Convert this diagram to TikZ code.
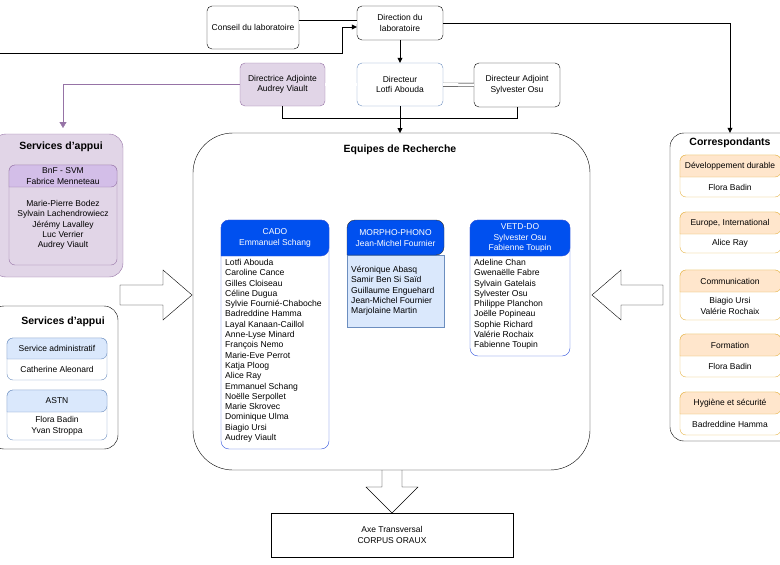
\documentclass[tikz,border=0pt]{standalone}
\usepackage{fontspec}
\setmainfont{Liberation Sans}
\usetikzlibrary{arrows.meta,calc,shapes.arrows}
\definecolor{pfill}{HTML}{E1D5E7}\definecolor{pdraw}{HTML}{9673A6}\definecolor{phead}{HTML}{D3BEE8}
\definecolor{bfill}{HTML}{DAE8FC}\definecolor{bdraw}{HTML}{6C8EBF}
\definecolor{ofill}{HTML}{FFE6CC}\definecolor{odraw}{HTML}{E6B54A}
\definecolor{team}{HTML}{0050EF}\definecolor{tdraw}{HTML}{3355DD}
\tikzset{
 box/.style={draw, rounded corners=5pt, align=center, font=\fontsize{8.5}{10.5}\selectfont, inner sep=0pt},
 con/.style={draw, -{Triangle[length=5pt,width=5pt]}},
 dbl/.style={draw, double, double distance=3pt},
 ttl/.style={font=\bfseries\fontsize{10.5}{12}\selectfont},
 txt/.style={font=\fontsize{8.5}{10.5}\selectfont, align=center, inner sep=0pt},
 lst/.style={font=\fontsize{8.6}{10.3}\selectfont, align=left, inner sep=0pt, anchor=north west},
}
\begin{document}
\begin{tikzpicture}[x=1pt,y=-1pt]
\useasboundingbox (0,0) rectangle (780,565);
% top boxes
\node[box, minimum width=92pt, minimum height=43pt] (cons) at (253,27.5) {Conseil du laboratoire};
\node[box, minimum width=86pt, minimum height=34pt] (dirlab) at (400,23) {Direction du\\laboratoire};
\node[box, fill=pfill, draw=pdraw, minimum width=85pt, minimum height=43pt] (dira) at (282.5,84.5) {Directrice Adjointe\\Audrey Viault};
\node[box, draw=bdraw, minimum width=86pt, minimum height=43pt] (dir) at (400,84.5) {Directeur\\Lotfi Abouda};
\node[box, minimum width=86pt, minimum height=44pt] (diradj) at (517,85) {Directeur Adjoint\\Sylvester Osu};
\coordinate (offl) at (0,53);
% equipes
\node[draw, rounded corners=40pt, minimum width=397pt, minimum height=337pt] (eq) at (391.5,301.5) {};
\node[ttl] (eqt) at (400,150) {Equipes de Recherche};
% services d'appui purple
\node[draw=pdraw, fill=pfill, rounded corners=14pt, minimum width=131pt, minimum height=143pt] (sa1) at (57.5,205.5) {};
\node[ttl] (sa1t) at (61,147) {Services d'appui};
\draw[draw=pdraw, fill=pfill, rounded corners=6pt] (9,165) rectangle (117,265);
\draw[draw=pdraw, fill=phead, rounded corners=6pt] (9,187) -- (9,165) -- (117,165) -- (117,187) [sharp corners]-- cycle;
\node[txt] (bnf) at (63,176) {BnF - SVM\\Fabrice Menneteau};
\node[txt, font=\fontsize{8.5}{10.3}\selectfont] (bnfl) at (63,225) {Marie-Pierre Bodez\\Sylvain Lachendrowiecz\\Jérémy Lavalley\\Luc Verrier\\Audrey Viault};
% services d'appui white
\node[draw, rounded corners=14pt, minimum width=128pt, minimum height=143pt] (sa2) at (54,377.5) {};
\node[ttl] (sa2t) at (63,322) {Services d'appui};
\foreach \nm/\ya/\yb/\yc/\h/\b in {adm/338/359/380/Service administratif/Catherine Aleonard, astn/390/412/440/ASTN/{Flora Badin\\Yvan Stroppa}}{
  \draw[draw=bdraw, rounded corners=6pt] (7,\ya) rectangle (107,\yc);
  \draw[draw=bdraw, fill=bfill, rounded corners=6pt] (7,\yb) -- (7,\ya) -- (107,\ya) -- (107,\yb) [sharp corners]-- cycle;
  \node[txt] (\nm h) at (57,{(\ya+\yb)/2}) {\h};
  \node[txt] (\nm b) at (57,{(\yb+\yc)/2}) {\b};
}
% correspondants
\node[draw, rounded corners=14pt, minimum width=130pt, minimum height=308pt] (cor) at (735,287) {};
\node[ttl] (cort) at (730,143) {Correspondants};
\foreach \nm/\ya/\yb/\yc/\h/\b in {dd/155/177/197/Développement durable/Flora Badin, eu/212/234/253/{Europe, International}/Alice Ray, com/270/292/320/Communication/{Biagio Ursi\\Valérie Rochaix}, form/334/356/377/Formation/Flora Badin, hyg/392/414/435/Hygiène et sécurité/Badreddine Hamma}{
  \draw[draw=odraw, fill=white, rounded corners=6pt] (680,\ya) rectangle (781,\yc);
  \draw[draw=odraw, fill=ofill, rounded corners=6pt] (680,\yb) -- (680,\ya) -- (781,\ya) -- (781,\yb) [sharp corners]-- cycle;
  \node[txt] (\nm h) at (730,{(\ya+\yb)/2}) {\h};
  \node[txt] (\nm b) at (730,{(\yb+\yc)/2}) {\b};
}
% teams
\draw[draw=tdraw, fill=white, rounded corners=8pt] (221,220) rectangle (329,449);
\draw[draw=tdraw, fill=team, rounded corners=8pt] (221,256) -- (221,220) -- (329,220) -- (329,256) [sharp corners]-- cycle;
\node[txt, text=white] (cado) at (275,238) {CADO\\Emmanuel Schang};
\node[lst] (cadol) at (225,259) {Lotfi Abouda\\Caroline Cance\\Gilles Cloiseau\\Céline Dugua\\Sylvie Fournié-Chaboche\\Badreddine Hamma\\Layal Kanaan-Caillol\\Anne-Lyse Minard\\François Nemo\\Marie-Eve Perrot\\Katja Ploog\\Alice Ray\\Emmanuel Schang\\Noëlle Serpollet\\Marie Skrovec\\Dominique Ulma\\Biagio Ursi\\Audrey Viault};
\draw[draw=bdraw, fill=bfill] (347,255) rectangle (444,327);
\draw[draw=black!80, fill=team, rounded corners=8pt] (347,255) -- (347,220) -- (444,220) -- (444,255) [sharp corners]-- cycle;
\node[txt, text=white] (morpho) at (395.5,238) {MORPHO-PHONO\\Jean-Michel Fournier};
\node[lst] (morphol) at (351,266) {Véronique Abasq\\Samir Ben Si Saïd\\Guillaume Enguehard\\Jean-Michel Fournier\\Marjolaine Martin};
\draw[draw=tdraw, fill=white, rounded corners=8pt] (470,220) rectangle (570,356);
\draw[draw=tdraw, fill=team, rounded corners=8pt] (470,256) -- (470,220) -- (570,220) -- (570,256) [sharp corners]-- cycle;
\node[txt, text=white] (vetd) at (520,238) {VETD-DO\\Sylvester Osu\\Fabienne Toupin};
\node[lst] (vetdl) at (474,259) {Adeline Chan\\Gwenaëlle Fabre\\Sylvain Gatelais\\Sylvester Osu\\Philippe Planchon\\Joëlle Popineau\\Sophie Richard\\Valérie Rochaix\\Fabienne Toupin};
% axe
\node[draw, minimum width=242pt, minimum height=44pt, txt] (axe) at (392,535) {Axe Transversal\\CORPUS ORAUX};
% block arrows
\draw (120,285) -- (163,285) -- (163,270) -- (192,295) -- (163,320) -- (163,305) -- (120,305) -- cycle;
\draw (663,285) -- (621,285) -- (621,270) -- (592,295) -- (621,320) -- (621,305) -- (663,305) -- cycle;
\draw (382,470) -- (382,487) -- (366,487) -- (392,513) -- (418,487) -- (402,487) -- (402,470);
% connectors
\draw[dbl] (cons.east |- 0,22) -- (dirlab.west |- 0,22);
\draw[con] (offl) -- (342,53) -- (342,27) -- (dirlab.west |- 0,27);
\draw[con] (dirlab) -- (dir);
\draw[con] (dirlab.east) -| (cor.north -| 730,0);
\draw[dbl] (dira) -- (dir);
\draw[dbl] (dir) -- (diradj);
\draw[draw=pdraw, -{Triangle[length=6pt,width=7pt,fill=pdraw]}] (dira.west) -| (63,128);
\draw (dira.south) |- (400,118);
\draw (diradj.south) |- (400,118);
\draw[con] (dir.south) -- (400,133);
\end{tikzpicture}
\end{document}
